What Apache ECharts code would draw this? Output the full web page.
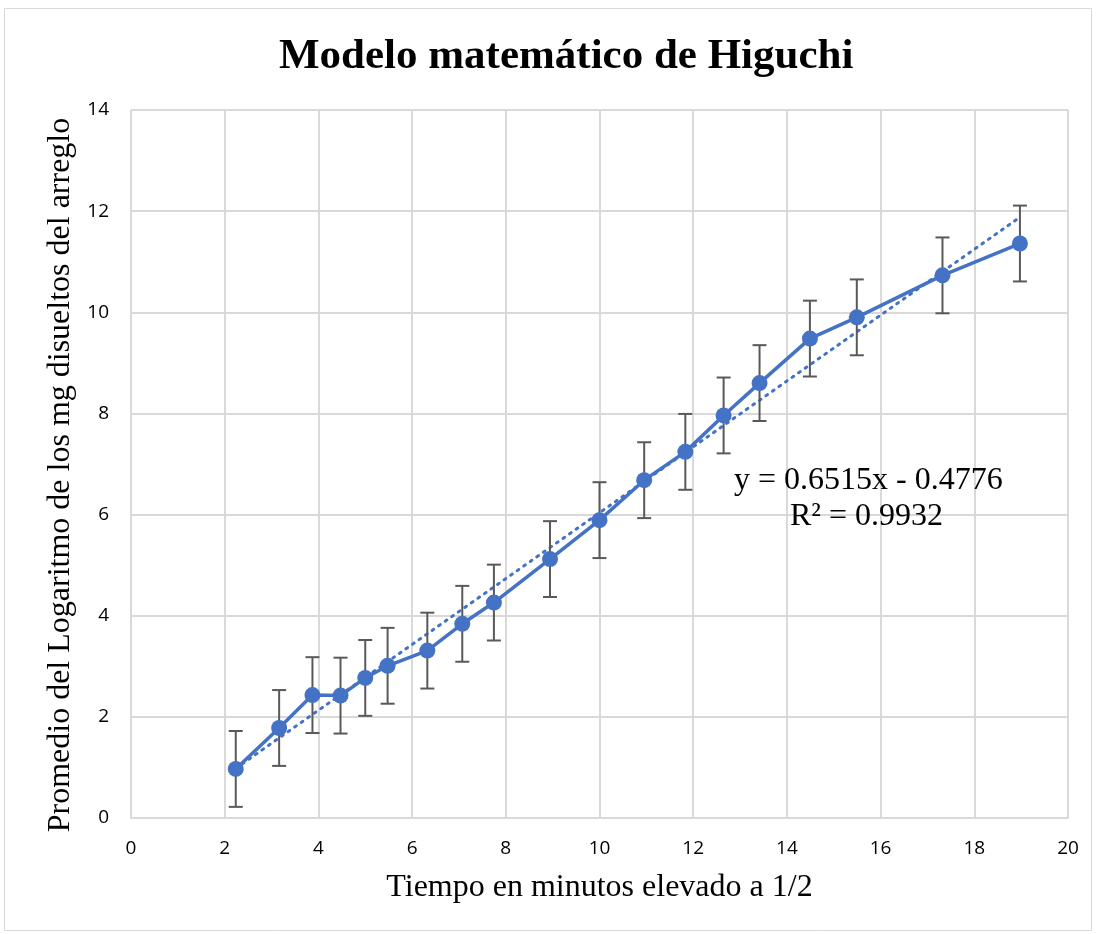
<!DOCTYPE html>
<html><head><meta charset="utf-8">
<script src="https://cdn.jsdelivr.net/npm/echarts@6/dist/echarts.min.js"></script>
<style>html,body{margin:0;padding:0;background:#fff}#c{width:1097px;height:934px}</style>
</head><body><div id="c"></div>
<script>
const xValues = [2.236, 3.162, 3.873, 4.472, 5.0, 5.477, 6.325, 7.071, 7.746, 8.944, 10.0, 10.954, 11.832, 12.649, 13.416, 14.491, 15.492, 17.321, 18.974];
const yValues = [0.97, 1.78, 2.43, 2.42, 2.77, 3.01, 3.31, 3.84, 4.26, 5.12, 5.89, 6.68, 7.24, 7.96, 8.60, 9.48, 9.90, 10.73, 11.36];
const errorHalf = [0.75, 0.75, 0.75, 0.75, 0.75, 0.75, 0.75, 0.75, 0.75, 0.75, 0.75, 0.75, 0.75, 0.75, 0.75, 0.75, 0.75, 0.75, 0.75];
const trendPoints = [[2.236, 0.98], [18.974, 11.88]];
const xTicks = [0, 2, 4, 6, 8, 10, 12, 14, 16, 18, 20];
const yTicks = [0, 2, 4, 6, 8, 10, 12, 14];
const titleText = 'Modelo matemático de Higuchi';
const xName = 'Tiempo en minutos elevado a 1/2';
const yName = 'Promedio del Logaritmo de los mg disueltos del arreglo';
const eqLines = ['y = 0.6515x - 0.4776', 'R² = 0.9932'];

const chart = echarts.init(document.getElementById('c'));
const pts = xValues.map((x, i) => [x, yValues[i]]);
const errData = xValues.map((x, i) => [x, yValues[i] - errorHalf[i], yValues[i] + errorHalf[i]]);
const serif = '"Liberation Serif","Times New Roman",serif';
const sans = '"Open Sans","Noto Sans",sans-serif';

chart.setOption({
  animation: false,
  backgroundColor: '#fff',
  title: {text: titleText, left: 274, top: 30, textStyle: {fontFamily: serif, fontWeight: 'bold', fontSize: 43, color: '#000'}},
  grid: {left: 131, right: 29, top: 110, bottom: 116},
  xAxis: {
    type: 'value', min: xTicks[0], max: xTicks[xTicks.length - 1], interval: 2,
    name: xName, nameLocation: 'middle', nameGap: 54,
    nameTextStyle: {fontFamily: serif, fontSize: 32, color: '#000'},
    axisLine: {show: true, lineStyle: {color: '#d9d9d9', width: 2}},
    axisTick: {show: false},
    axisLabel: {fontFamily: sans, fontSize: 19, color: '#000', margin: 21},
    splitLine: {show: true, lineStyle: {color: '#d9d9d9', width: 2}}
  },
  yAxis: {
    type: 'value', min: yTicks[0], max: yTicks[yTicks.length - 1], interval: 2,
    name: yName, nameLocation: 'middle', nameGap: 48,
    nameTextStyle: {fontFamily: serif, fontSize: 32, color: '#000', padding: [0, 22, 0, 0]},
    axisLine: {show: false}, axisTick: {show: false},
    axisLabel: {fontFamily: sans, fontSize: 19, color: '#000', margin: 22},
    splitLine: {show: true, lineStyle: {color: '#d9d9d9', width: 2}}
  },
  graphic: [
    {type: 'rect', shape: {x: 4.5, y: 8.5, width: 1087, height: 922}, style: {fill: 'none', stroke: '#d9d9d9', lineWidth: 1}, silent: true, z: -1},
    {type: 'text', left: 734, top: 465, z: 100, style: {text: eqLines[0], fontFamily: serif, fontSize: 32, fill: '#000'}},
    {type: 'text', left: 790, top: 501, z: 100, style: {text: eqLines[1], fontFamily: serif, fontSize: 32, fill: '#000'}}
  ],
  series: [
    {
      type: 'line', data: trendPoints, symbol: 'none', z: 2,
      lineStyle: {color: '#4472C4', width: 3, type: [2, 6], cap: 'round'}
    },
    {
      type: 'custom', z: 3,
      data: errData,
      encode: {x: 0, y: [1, 2]},
      renderItem: function (params, api) {
        const x = api.value(0);
        const lo = api.coord([x, api.value(1)]);
        const hi = api.coord([x, api.value(2)]);
        const w = 7;
        const st = {stroke: '#595959', lineWidth: 2};
        return {type: 'group', children: [
          {type: 'line', shape: {x1: lo[0], y1: lo[1], x2: hi[0], y2: hi[1]}, style: st},
          {type: 'line', shape: {x1: lo[0] - w, y1: lo[1], x2: lo[0] + w, y2: lo[1]}, style: st},
          {type: 'line', shape: {x1: hi[0] - w, y1: hi[1], x2: hi[0] + w, y2: hi[1]}, style: st}
        ]};
      }
    },
    {
      type: 'line', data: pts, symbol: 'circle', symbolSize: 16, z: 4,
      lineStyle: {color: '#4472C4', width: 3.5},
      itemStyle: {color: '#4472C4'}
    }
  ]
});
</script></body></html>
